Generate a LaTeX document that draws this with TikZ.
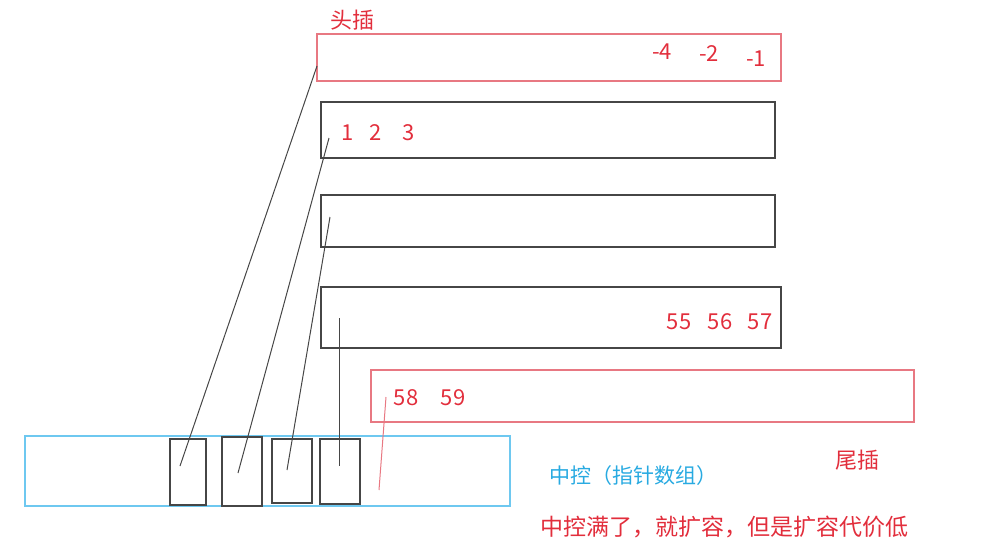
\documentclass[tikz,border=0pt]{standalone}
\usepackage{fontspec}
\setmainfont{Noto Sans CJK SC}
\definecolor{notered}{RGB}{226,46,60}
\definecolor{boxred}{RGB}{232,120,130}
\definecolor{notecyan}{RGB}{40,170,225}
\definecolor{boxcyan}{RGB}{110,200,240}
\definecolor{linegray}{RGB}{70,70,70}
\newcommand{\blockbox}[6]{% name, x, y, w, h, style
    \node[#6, minimum width=#4, minimum height=#5] (#1) at (#2, #3) {}
}
\begin{document}
\begin{tikzpicture}[x=1pt, y=-1pt,
        box/.style={draw=linegray, line width=1.2pt, anchor=north west,
            inner sep=0pt, outer sep=0pt},
        redbox/.style={box, draw=boxred},
        cyanbox/.style={box, draw=boxcyan},
        num/.style={text=notered, font=\fontsize{22}{25}\selectfont},
        note/.style={font=\fontsize{22}{26}\selectfont},
        ptr/.style={draw=linegray, line width=1pt}]
        \useasboundingbox (0, 0) rectangle (988, 549);
        % deque blocks
        \blockbox{head}{317}{34}{464pt}{47pt}{redbox};
        \blockbox{blkA}{321}{102}{454pt}{56pt}{box};
        \blockbox{blkB}{321}{195}{454pt}{52pt}{box};
        \blockbox{blkC}{321}{287}{460pt}{61pt}{box};
        \blockbox{tail}{371}{370}{543pt}{52pt}{redbox};
        % central map
        \blockbox{map}{25}{436}{485pt}{70pt}{cyanbox};
        \blockbox{cellA}{170}{439}{36pt}{66pt}{box};
        \blockbox{cellB}{222}{437}{40pt}{69pt}{box};
        \blockbox{cellC}{272}{439}{40pt}{64pt}{box};
        \blockbox{cellD}{320}{439}{40pt}{65pt}{box};
        \node[note, text=notered] (headlbl) at (352, 20) {头插};
        \node[num] (nm4) at (662, 52) {-4};
        \node[num] (nm2) at (709, 54) {-2};
        \node[num] (nm1) at (756, 59) {-1};
        \node[num] (n1) at (348, 133) {1};
        \node[num] (n2) at (376, 133) {2};
        \node[num] (n3) at (409, 133) {3};
        \node[num] (n55) at (679, 322) {55};
        \node[num] (n56) at (720, 322) {56};
        \node[num] (n57) at (760, 322) {57};
        \node[num] (n58) at (406, 398) {58};
        \node[num] (n59) at (453, 398) {59};
        \node[note, text=notered] (taillbl) at (857, 460) {尾插};
        \node[note, text=notecyan, font=\fontsize{21}{25}\selectfont] (maplbl) at (633, 476) {中控（指针数组）};
        \node[note, text=notered, font=\fontsize{23}{27}\selectfont] (remark) at (724, 527) {中控满了，就扩容，但是扩容代价低};
        % pointers from map cells to blocks
        \coordinate (pA) at (317, 66);
        \coordinate (qA) at (180, 466);
        \coordinate (pB) at (329, 138);
        \coordinate (qB) at (238, 473);
        \coordinate (pC) at (330, 217);
        \coordinate (qC) at (287, 470);
        \coordinate (pD) at (339, 318);
        \coordinate (qD) at (339, 466);
        \coordinate (pT) at (386, 397);
        \coordinate (qT) at (379, 490);
        \draw[ptr] (pA) -- (qA);
        \draw[ptr] (pB) -- (qB);
        \draw[ptr] (pC) -- (qC);
        \draw[ptr] (pD) -- (qD);
        \draw[ptr, draw=boxred] (pT) -- (qT);
    \end{tikzpicture}
\end{document}
